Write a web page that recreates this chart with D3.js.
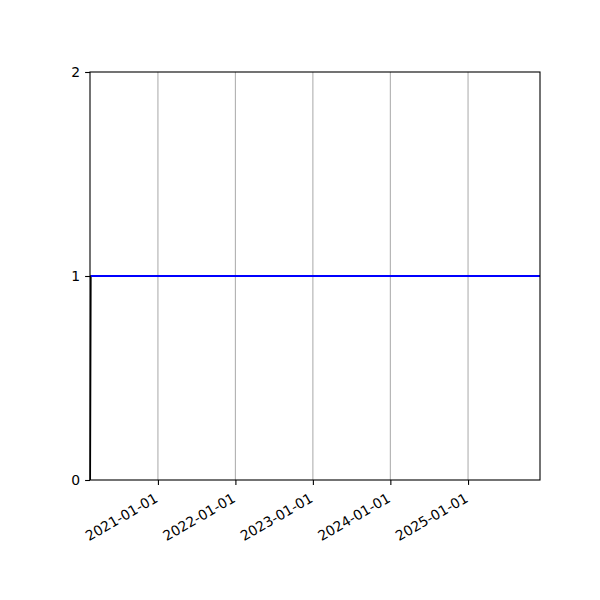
<!DOCTYPE html>
<html>
<head>
<meta charset="utf-8">
<script src="https://cdn.jsdelivr.net/npm/d3@7"></script>
<style>
  body { margin: 0; background: #fff; }
  svg text { font-family: "DejaVu Sans", sans-serif; font-size: 13.9px; fill: #000; }
</style>
</head>
<body>
<div id="chart"></div>
<script>
// data
const xDomainDates = ["2020-02-16", "2025-12-06"];
const tickDates = ["2021-01-01", "2022-01-01", "2023-01-01", "2024-01-01", "2025-01-01"];
const yTicks = [0, 1, 2];

const stepDates = ["2020-02-17", "2020-02-20", "2025-12-06"];
const stepValues = [0, 1, 1];

const flatDates = ["2020-02-20", "2025-12-06"];
const flatValues = [1, 1];

const parse = d3.timeParse("%Y-%m-%d");

let width = 600, height = 600;
let margin = {left: 90, right: 60, top: 72, bottom: 120};
let innerW = width - margin.left - margin.right;
let innerH = height - margin.top - margin.bottom;

let xScale = d3.scaleTime()
    .domain(xDomainDates.map(parse))
    .range([0, innerW]);
let yScale = d3.scaleLinear().domain([0, 2]).range([innerH, 0]);

let svg = d3.select("#chart").append("svg")
    .attr("width", width)
    .attr("height", height);

let canvas = svg.append("g")
    .attr("transform", "translate(" + margin.left + "," + margin.top + ")");

// vertical grid
canvas.append("g")
    .selectAll("line.grid")
    .data(tickDates.map(parse))
    .enter()
    .append("line")
    .attr("x1", d => xScale(d)).attr("x2", d => xScale(d))
    .attr("y1", 0).attr("y2", innerH)
    .attr("stroke", "#b0b0b0")
    .attr("stroke-width", 1.1);

let line = d3.line()
    .x(d => xScale(d[0]))
    .y(d => yScale(d[1]));

canvas.append("path")
    .datum(stepDates.map((d, i) => [parse(d), stepValues[i]]))
    .attr("d", line)
    .attr("fill", "none")
    .attr("stroke", "#000")
    .attr("stroke-width", 1.6);

canvas.append("path")
    .datum(flatDates.map((d, i) => [parse(d), flatValues[i]]))
    .attr("d", line)
    .attr("fill", "none")
    .attr("stroke", "#0000ff")
    .attr("stroke-width", 2.1);

// frame
canvas.append("rect")
    .attr("width", innerW).attr("height", innerH)
    .attr("fill", "none")
    .attr("stroke", "#000")
    .attr("stroke-width", 1.1);

// x axis
let xAxis = d3.axisBottom(xScale)
    .tickValues(tickDates.map(parse))
    .tickSize(4.9)
    .tickPadding(4.9)
    .tickFormat(d3.timeFormat("%Y-%m-%d"));

let gx = canvas.append("g")
    .attr("transform", "translate(0," + innerH + ")")
    .call(xAxis);
gx.select(".domain").remove();
gx.selectAll(".tick line").attr("stroke-width", 1.1);
gx.selectAll(".tick text")
    .attr("font-size", null)
    .attr("text-anchor", "end")
    .attr("dy", null)
    .attr("y", null)
    .attr("transform", "translate(0.5,21) rotate(-30)");

// y axis
let yAxis = d3.axisLeft(yScale)
    .tickValues(yTicks)
    .tickSize(4.9)
    .tickPadding(4.9)
    .tickFormat(d3.format("d"));

let gy = canvas.append("g").call(yAxis);
gy.select(".domain").remove();
gy.selectAll(".tick line").attr("stroke-width", 1.1);
gy.selectAll(".tick text").attr("font-size", null);
svg.selectAll(".tick text").attr("font-family", null);
</script>
</body>
</html>
